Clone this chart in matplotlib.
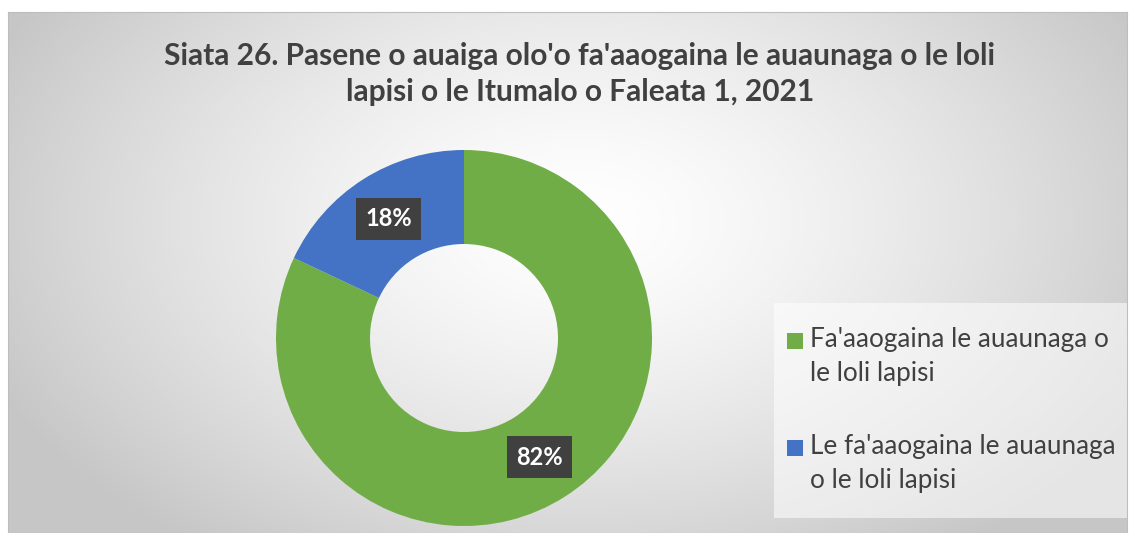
import matplotlib.pyplot as plt
import numpy as np
from matplotlib.patches import Rectangle

# data
categories = ["Fa'aaogaina le auaunaga o\nle loli lapisi",
              "Le fa'aaogaina le auaunaga\no le loli lapisi"]
shares = [82, 18]
colors = ["#70AD47", "#4472C4"]
title = "Siata 26. Pasene o auaiga olo'o fa'aaogaina le auaunaga o le loli\nlapisi o le Itumalo o Faleata 1, 2021"

plt.rcParams["font.family"] = ["Lato", "DejaVu Sans"]

W, H = 1130, 533
fig = plt.figure(figsize=(W / 100, H / 100), dpi=100)
fig.patch.set_facecolor("white")

# chart area with radial grey gradient
x0, x1, y0, y1 = 8, 1127, 12, 533
bg = fig.add_axes([x0 / W, 1 - y1 / H, (x1 - x0) / W, (y1 - y0) / H])
xx, yy = np.meshgrid(np.arange(x0, x1), np.arange(y0, y1))
d = np.sqrt(((xx - 580) / 640.0) ** 2 + ((yy - 220) / 400.0) ** 2)
g = 1.0 - 0.22 * np.clip(d, 0, 1) ** 1.4
bg.imshow(np.dstack([g, g, g]), aspect="auto", extent=[0, 1, 0, 1])
bg.set_xticks([])
bg.set_yticks([])
for s in bg.spines.values():
    s.set_color("#bdbdbd")
    s.set_linewidth(0.8)

fig.text(0.513, 1 - 74 / H, title, ha="center", va="center",
         fontsize=21.5, fontweight="bold", color="#404040", linespacing=1.32)

# donut
cx, cy, r = 464, 338, 188
half = 200
ax = fig.add_axes([(cx - half) / W, 1 - (cy + half) / H, 2 * half / W, 2 * half / H])
wedges, texts, autotexts = ax.pie(
    shares, colors=colors, startangle=90, counterclock=False,
    wedgeprops=dict(width=0.5, edgecolor="none"),
    autopct=lambda p: f"{p:.0f}%", pctdistance=0.75,
    textprops=dict(color="white", fontsize=17, fontweight="bold"))
for t in autotexts:
    t.set_bbox(dict(boxstyle="square,pad=0.4", facecolor="#404040", edgecolor="none"))
lim = half / r
ax.set_xlim(-lim, lim)
ax.set_ylim(-lim, lim)
ax.set_aspect("equal")
ax.axis("off")

# legend: light box, square markers aligned with the first line of each label
lx0, lx1, ly0, ly1 = 774, 1127, 303, 518
fig.patches.append(Rectangle((lx0 / W, 1 - ly1 / H), (lx1 - lx0) / W, (ly1 - ly0) / H,
                             transform=fig.transFigure, facecolor="white",
                             alpha=0.55, edgecolor="none", zorder=1))
first_line_y = [341, 448]
for lab, col, yl in zip(categories, colors, first_line_y):
    fig.patches.append(Rectangle((787 / W, 1 - (yl + 8) / H), 16 / W, 16 / H,
                                 transform=fig.transFigure, facecolor=col,
                                 edgecolor="none", zorder=2))
    fig.text(810 / W, 1 - (yl - 14) / H, lab, ha="left", va="top",
             fontsize=18.8, color="#404040", linespacing=1.45)

fig.savefig("out.png", dpi=100)
